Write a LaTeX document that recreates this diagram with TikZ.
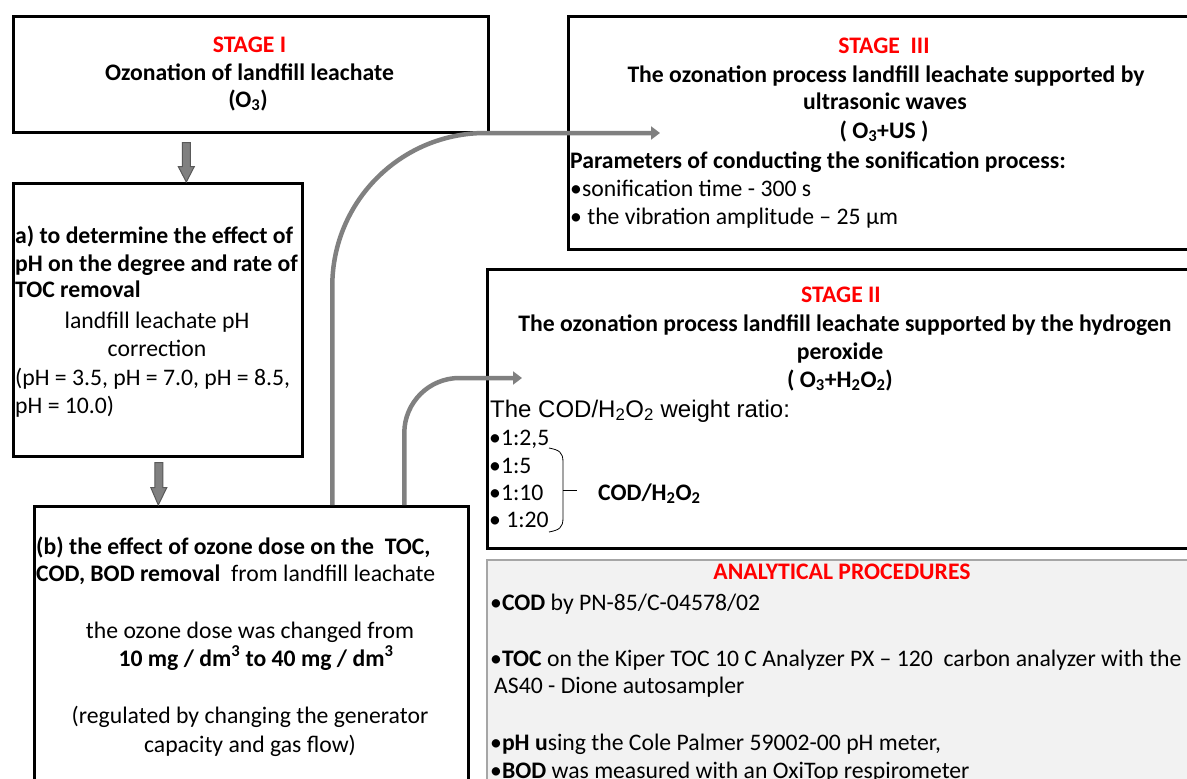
\documentclass[tikz,border=0pt]{standalone}
\usepackage{fontspec}
\setmainfont{Carlito}
\newfontfamily\arialf{Liberation Sans}
\usetikzlibrary{arrows.meta}
\definecolor{stagered}{HTML}{FF0000}
\definecolor{arrgray}{HTML}{808080}
\definecolor{arrdark}{HTML}{595959}
\definecolor{procfill}{HTML}{F2F2F2}
\definecolor{procline}{HTML}{A6A6A6}
\newcommand{\fs}{\fontsize{23.7}{28}\selectfont}
\begin{document}
\begin{tikzpicture}[x=1pt,y=-1pt,
  box/.style={draw=black, line width=2.6pt, rectangle, inner sep=0pt, anchor=north west},
  procbox/.style={draw=procline, fill=procfill, line width=1.5pt, rectangle, inner sep=0pt, anchor=north west},
  ln/.style={inner sep=0pt, anchor=base, font=\fs},
  lnl/.style={inner sep=0pt, anchor=base west, font=\fs},
  red/.style={text=stagered, font=\fs\bfseries},
  fatarrow/.style={draw=arrdark, line width=1pt, fill=arrgray},
  curvearrow/.style={draw=arrgray, line width=4.5pt, -{Triangle[width=13pt,length=9pt]}},
]
\useasboundingbox (0,0) rectangle (1187,779);
\clip (0,0) rectangle (1187,779);
\fill[white] (0,0) rectangle (1187,779);

% boxes
\node[box, minimum width=475pt, minimum height=116pt] (s1) at (12,15) {};
\node[box, minimum width=289pt, minimum height=273pt] (ba) at (12,182) {};
\node[box, minimum width=434pt, minimum height=300pt] (bb) at (33,505) {};
\node[box, minimum width=640pt, minimum height=233pt] (s3) at (567,15) {};
\node[box, minimum width=720pt, minimum height=279pt] (s2) at (486,268) {};
\node[procbox, minimum width=720pt, minimum height=240pt] (ap) at (486,559) {};

% fat down arrows
\coordinate (a1s) at ([xshift=-64.5pt,yshift=-9pt]s1.south);
\coordinate (a1e) at ([xshift=28.5pt]ba.north);
\filldraw[fatarrow] ([xshift=-4pt]a1s) -- ([xshift=4pt]a1s) -- ([xshift=4pt,yshift=-24pt]a1s) -- ([xshift=8pt,yshift=-24pt]a1s) -- (a1e) -- ([xshift=-8pt,yshift=-24pt]a1s) -- ([xshift=-4pt,yshift=-24pt]a1s) -- cycle;
\coordinate (a2s) at ([xshift=1pt,yshift=-5pt]ba.south);
\coordinate (a2e) at ([xshift=-93pt]bb.north);
\filldraw[fatarrow] ([xshift=-4pt]a2s) -- ([xshift=4pt]a2s) -- ([xshift=4pt,yshift=-25pt]a2s) -- ([xshift=8pt,yshift=-25pt]a2s) -- (a2e) -- ([xshift=-8pt,yshift=-25pt]a2s) -- ([xshift=-4pt,yshift=-25pt]a2s) -- cycle;

% curved arrows
\coordinate (s3in) at (660,133);
\coordinate (s2in) at (522,378);
\draw[curvearrow, rounded corners=153pt] ([xshift=81pt]bb.north) |- (s3in);
\draw[curvearrow, rounded corners=55pt] ([xshift=153pt]bb.north) |- (s2in);

% Stage I text
\node[ln, red] (s1a) at (249.5,52) {STAGE I};
\node[ln, font=\fs\bfseries] (s1b) at (249.5,80) {Ozonation of landfill leachate};
\node[ln, font=\fs\bfseries] (s1c) at (248,107) {(O\textsubscript{3})};

% box a text
\node[lnl, font=\fs\bfseries] (ba1) at (15,243) {a) to determine the effect of};
\node[lnl, font=\fs\bfseries] (ba2) at (15,271) {pH on the degree and rate of};
\node[lnl, font=\fs\bfseries] (ba3) at (15,297) {TOC removal};
\node[ln] (ba4) at (157,328) {landfill leachate pH};
\node[ln] (ba5) at (157,356) {correction};
\node[lnl] (ba6) at (15,385) {(pH = 3.5, pH = 7.0, pH = 8.5,};
\node[lnl] (ba7) at (15,413) {pH = 10.0)};

% box b text
\node[lnl] (bb1) at (36,554) {\bfseries (b) the effect of ozone dose on the\ \ TOC,};
\node[lnl] (bb2) at (36,581) {\textbf{COD, BOD removal}\ \ from landfill leachate};
\node[ln] (bb3) at (250,638) {the ozone dose was changed from};
\node[ln] (bb4) at (256,666) {\bfseries 10 mg / dm\textsuperscript{3} to 40 mg / dm\textsuperscript{3}};
\node[ln] (bb5) at (250,723) {(regulated by changing the generator};
\node[ln] (bb6) at (250,752) {capacity and gas flow)};

% Stage III text
\node[ln, red] (s3a) at (884,53) {STAGE\ \ III};
\node[ln, font=\fs\bfseries] (s3b) at (886,82) {The ozonation process landfill leachate supported by};
\node[ln, font=\fs\bfseries] (s3c) at (885,109) {ultrasonic waves};
\node[ln, font=\fs\bfseries] (s3d) at (884,138) {( O\textsubscript{3}+US )};
\node[lnl, font=\fs\bfseries] (s3e) at (570,168) {Parameters of conducting the sonification process:};
\node[lnl] (s3f) at (570,196) {•sonification time - 300 s};
\node[lnl] (s3g) at (570,224) {• the vibration amplitude – 25 µm};

% Stage II text
\node[ln, red] (s2a) at (841,302) {STAGE II};
\node[ln, font=\fs\bfseries] (s2b) at (845,331) {The ozonation process landfill leachate supported by the hydrogen};
\node[ln, font=\fs\bfseries] (s2c) at (840,359) {peroxide};
\node[ln, font=\fs\bfseries] (s2d) at (840,387) {( O\textsubscript{3}+H\textsubscript{2}O\textsubscript{2})};
\node[lnl, font=\arialf\fontsize{24}{28}\selectfont] (s2e) at (490,417) {The COD/H\textsubscript{2}O\textsubscript{2} weight ratio:};
\node[lnl] (s2f) at (489,445) {•1:2,5};
\node[lnl] (s2g) at (489,473) {•1:5};
\node[lnl] (s2h) at (489,500) {•1:10};
\node[lnl] (s2i) at (489,527) {• 1:20};
\draw[line width=0.8pt] (549,448) .. controls (559,450) and (563,452) .. (563,462) -- (563,518) .. controls (563,528) and (559,530) .. (549,532);
\draw[line width=0.8pt] (563,490) -- (577,490);
\node[lnl, font=\fs\bfseries] (s2j) at (598,500) {COD/H\textsubscript{2}O\textsubscript{2}};

% Analytical procedures
\node[ln, red] (apa) at (842,579) {ANALYTICAL PROCEDURES};
\node[lnl] (apb) at (490,610) {•\textbf{COD} by PN-85/C-04578/02};
\node[lnl] (apc) at (490,666) {•\textbf{TOC} on the Kiper TOC 10 C Analyzer PX – 120\ \ carbon analyzer with the};
\node[lnl] (apd) at (494,693) {AS40 - Dione autosampler};
\node[lnl] (ape) at (490,750) {•\textbf{pH u}sing the Cole Palmer 59002-00 pH meter,};
\node[lnl] (apf) at (490,778) {•\textbf{BOD} was measured with an OxiTop respirometer};
\end{tikzpicture}
\end{document}
